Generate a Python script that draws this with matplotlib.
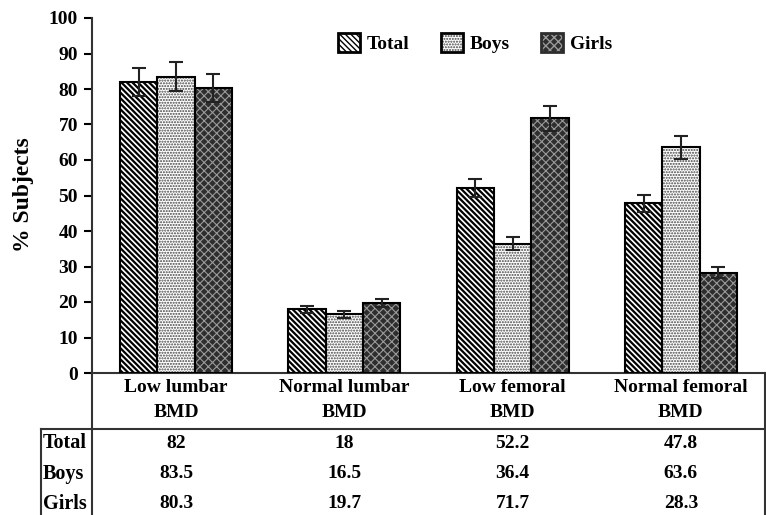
import numpy as np
import matplotlib.pyplot as plt
from matplotlib.patches import Patch
from matplotlib.lines import Line2D
from matplotlib.transforms import blended_transform_factory

plt.rcParams['font.family'] = ['Liberation Serif', 'DejaVu Serif']
plt.rcParams['font.weight'] = 'bold'

# data
categories = ["Low lumbar\nBMD", "Normal lumbar\nBMD", "Low femoral\nBMD", "Normal femoral\nBMD"]
groups = ["Total", "Boys", "Girls"]
total = [82, 18, 52.2, 47.8]
boys = [83.5, 16.5, 36.4, 63.6]
girls = [80.3, 19.7, 71.7, 28.3]
total_err = [4.0, 1.0, 2.5, 2.4]
boys_err = [4.2, 0.9, 1.8, 3.2]
girls_err = [4.0, 1.1, 3.5, 1.5]
table_text = [["82", "18", "52.2", "47.8"],
              ["83.5", "16.5", "36.4", "63.6"],
              ["80.3", "19.7", "71.7", "28.3"]]

W, H = 766, 515
fig = plt.figure(figsize=(W / 100, H / 100), dpi=100)
ax = fig.add_axes([92 / W, 1 - 373 / H, (765 - 92) / W, (373 - 18) / H])

x = np.arange(len(categories))
bw = 0.222
series = [total, boys, girls]
errs = [total_err, boys_err, girls_err]
styles = [dict(face="white", hatch="\\\\\\\\\\\\", hcol="black", hlw=1.6, edge="black"),
          dict(face="white", hatch="......", hcol="#444444", hlw=1.0, edge="black"),
          dict(face="#2e2e2e", hatch="xxxx", hcol="#9a9a9a", hlw=0.8, edge="#2e2e2e")]

for i, (vals, err, st) in enumerate(zip(series, errs, styles)):
    pos = x + (i - 1) * bw
    with plt.rc_context({'hatch.linewidth': st["hlw"]}):
        ax.bar(pos, vals, bw, color=st["face"], hatch=st["hatch"], edgecolor=st["hcol"],
               linewidth=0, zorder=2)
    ax.bar(pos, vals, bw, fill=False, edgecolor="black", linewidth=1.5, zorder=3)
    ax.errorbar(pos, vals, yerr=err, fmt="none", ecolor="#222222", elinewidth=1.5,
                capsize=5, capthick=1.5, zorder=4)

ax.set_xlim(-0.5, len(categories) - 0.5)
ax.set_ylim(0, 100)
ax.set_yticks(range(0, 101, 10))
ax.set_xticks([])
ax.tick_params(axis="y", direction="out", length=6, width=1.5, labelsize=14, pad=4)
for lab in ax.get_yticklabels():
    lab.set_fontweight("bold")
ax.spines["top"].set_visible(False)
ax.spines["right"].set_visible(False)
for s in ["left", "bottom"]:
    ax.spines[s].set_linewidth(1.5)
    ax.spines[s].set_color("#333333")

fig.text(23 / W, 1 - 195 / H, "% Subjects", rotation=90, ha="center", va="center",
         fontsize=17, fontweight="bold")

# legend: hatched square with an outline drawn on top
handles = []
for g, st in zip(groups, styles):
    with plt.rc_context({'hatch.linewidth': st["hlw"]}):
        fillp = Patch(facecolor=st["face"], hatch=st["hatch"], edgecolor=st["hcol"], linewidth=0)
    edgep = Patch(fill=False, edgecolor=st["edge"], linewidth=2.0)
    handles.append((fillp, edgep))
leg = ax.legend(handles=handles, labels=groups, ncol=3, loc="center",
                bbox_to_anchor=((475 - 92) / 673, (373 - 43) / 355),
                frameon=False, fontsize=14, handlelength=1.13, handleheight=1.13,
                columnspacing=1.6, handletextpad=0.36)
for t in leg.get_texts():
    t.set_fontweight("bold")

# table under the axis
tr = blended_transform_factory(ax.transData, ax.transAxes)
def ay(py):
    return (373 - py) / 355
def ax_x(px):
    return (px - 92) / 673

for xi, cat in zip(x, categories):
    ax.text(xi, ay(400), cat, transform=tr, ha="center", va="center", fontsize=14,
            fontweight="bold", linespacing=1.65, clip_on=False)

row_y = [443, 474, 504]
for r, (g, row) in enumerate(zip(groups, table_text)):
    ax.text(ax_x(43), ay(row_y[r]), g, transform=ax.transAxes, ha="left", va="center",
            fontsize=14.5, fontweight="bold", clip_on=False)
    for xi, val in zip(x, row):
        ax.text(xi, ay(row_y[r]), val, transform=tr, ha="center", va="center",
                fontsize=14, fontweight="bold", clip_on=False)

lines = [([ax_x(41), 1.0], [ay(429), ay(429)]),
         ([0, 0], [0, ay(520)]),
         ([1.0, 1.0], [0, ay(520)]),
         ([ax_x(41), ax_x(41)], [ay(429), ay(520)])]
for lx, ly in lines:
    ax.add_line(Line2D(lx, ly, transform=ax.transAxes, color="#333333", linewidth=1.5,
                       clip_on=False))

fig.savefig("out.png", dpi=100)
